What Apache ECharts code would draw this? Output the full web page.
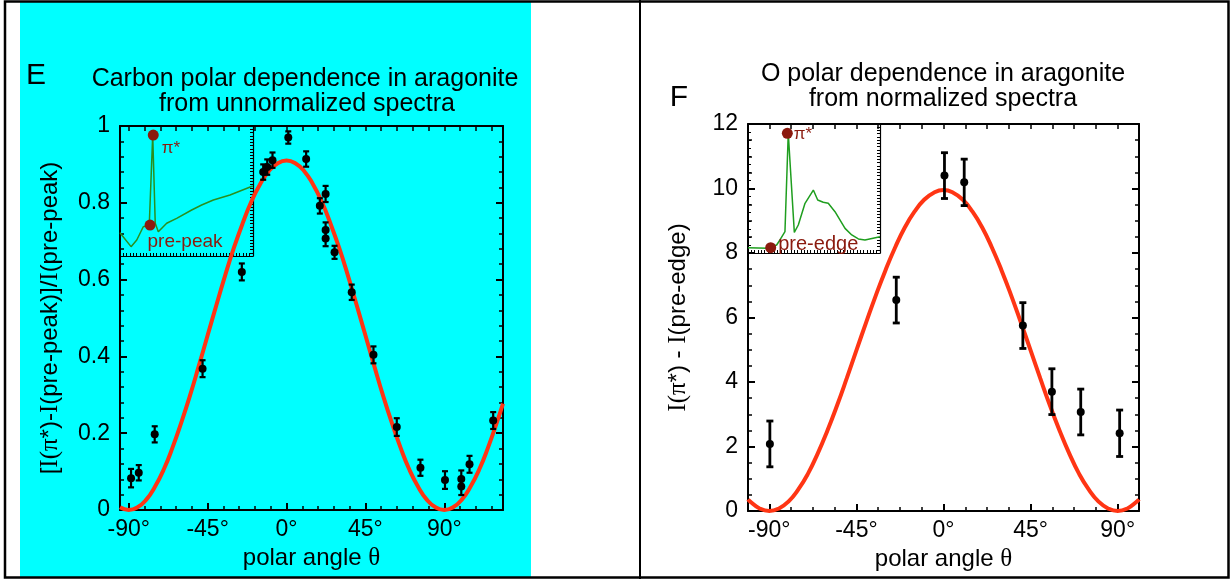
<!DOCTYPE html>
<html>
<head>
<meta charset="utf-8">
<script src="https://cdn.jsdelivr.net/npm/echarts@6/dist/echarts.min.js"></script>
<style>
  html, body { margin: 0; padding: 0; background: #fff; }
  #chart { width: 1231px; height: 579px; }
</style>
</head>
<body>
<div id="chart"></div>
<script>
// --- panel E: carbon, unnormalized spectra ---
const carbonAngle = [-88.7, -84.3, -75.2, -47.9, -25.5, -13.3, -11, -8, 1, 11.2, 19, 22.3, 22.3, 22.3, 27.4, 37.2, 49.6, 62.9, 76.4, 90.4, 99.7, 99.7, 104.4, 117.9]
const carbonValue = [0.083, 0.097, 0.197, 0.368, 0.620, 0.880, 0.893, 0.911, 0.970, 0.914, 0.792, 0.823, 0.729, 0.707, 0.671, 0.567, 0.404, 0.216, 0.110, 0.078, 0.081, 0.061, 0.119, 0.233]
const carbonErr = [0.024, 0.02, 0.021, 0.022, 0.022, 0.02, 0.02, 0.02, 0.016, 0.02, 0.02, 0.021, 0.02, 0.02, 0.017, 0.02, 0.022, 0.023, 0.021, 0.023, 0.022, 0.022, 0.022, 0.022]

const carbonFitAngle = [-95, -90, -85, -80, -75, -70, -65, -60, -55, -50, -45, -40, -35, -30, -25, -20, -15, -10, -5, 0, 5, 10, 15, 20, 25, 30, 35, 40, 45, 50, 55, 60, 65, 70, 75, 80, 85, 90, 95, 100, 105, 110, 115, 120, 123.5]
const carbonFitValue = [0.007, 0, 0.007, 0.027, 0.061, 0.106, 0.163, 0.228, 0.299, 0.376, 0.455, 0.534, 0.611, 0.683, 0.747, 0.804, 0.849, 0.883, 0.903, 0.91, 0.903, 0.883, 0.849, 0.804, 0.747, 0.683, 0.611, 0.534, 0.455, 0.376, 0.299, 0.228, 0.163, 0.106, 0.061, 0.027, 0.007, 0, 0.007, 0.027, 0.061, 0.106, 0.163, 0.228, 0.277]

// inset spectrum, arbitrary units (0-100 on both axes)
const carbonInsetX = [0, 1.3, 8.3, 12.6, 17.5, 22, 24.6, 26.5, 28.8, 35.1, 42.6, 53.9, 61.4, 70.2, 82.7, 99.8]
const carbonInsetY = [18, 16.2, 7.2, 12.3, 22.5, 23.8, 93, 25.2, 18.7, 25.2, 29, 35.4, 39.2, 43.1, 46.9, 53.8]
const carbonMarkX = [25, 22.6]
const carbonMarkY = [93, 23.8]

// --- panel F: oxygen, normalized spectra ---
const oxygenAngle = [-89.7, -24.4, 0.5, 10.7, 41, 56, 70.9, 91]
const oxygenValue = [2.08, 6.54, 10.40, 10.19, 5.75, 3.70, 3.07, 2.41]
const oxygenErr = [0.71, 0.71, 0.71, 0.72, 0.71, 0.71, 0.71, 0.72]

const oxygenFitAngle = [-101, -100, -95, -90, -85, -80, -75, -70, -65, -60, -55, -50, -45, -40, -35, -30, -25, -20, -15, -10, -5, 0, 5, 10, 15, 20, 25, 30, 35, 40, 45, 50, 55, 60, 65, 70, 75, 80, 85, 90, 95, 100, 101]
const oxygenFitValue = [0.36, 0.30, 0.08, 0, 0.08, 0.30, 0.67, 1.16, 1.78, 2.49, 3.27, 4.11, 4.98, 5.84, 6.68, 7.46, 8.17, 8.79, 9.28, 9.65, 9.87, 9.95, 9.87, 9.65, 9.28, 8.79, 8.17, 7.46, 6.68, 5.84, 4.98, 4.11, 3.27, 2.49, 1.78, 1.16, 0.67, 0.30, 0.08, 0, 0.08, 0.30, 0.36]

const oxygenInsetX = [0, 1.5, 15.4, 21.7, 24.2, 28, 30.5, 35.1, 38.1, 43.2, 49.5, 52.8, 57, 60.8, 65.9, 73.5, 78.6, 83.6, 88.6, 100]
const oxygenInsetY = [4.1, 4.1, 3.6, 6.2, 10.1, 16.5, 92.8, 16, 21.7, 38.5, 48.8, 41.1, 39.3, 38.5, 32, 19.1, 14, 10.9, 10.1, 12.6]
const oxygenMarkX = [29.8, 17.2]
const oxygenMarkY = [92.8, 4.1]

// --- ticks ---
const degLabels = [-90, -45, 0, 45, 90]
const carbonTicks = [-90, -81, -72, -63, -54, -45, -36, -27, -18, -9, 0, 9, 18, 27, 36, 45, 54, 63, 72, 81, 90, 99, 108, 117]
const oxygenTicks = [-90, -78.75, -67.5, -56.25, -45, -33.75, -22.5, -11.25, 0, 11.25, 22.5, 33.75, 45, 56.25, 67.5, 78.75, 90]

const FONT = "'Liberation Sans', Arial, Helvetica, sans-serif"
const SERIF = "'Liberation Serif', 'Times New Roman', serif"
const RED = '#ff3514'
const DARKRED = '#8b1a0e'

const zip = (xs, ys) => xs.map((x, i) => [x, ys[i]])
const bars = (xs, ys, es) => xs.map((x, i) => [x, ys[i] - es[i], ys[i] + es[i]])

const boxLine = { show: true, onZero: false, lineStyle: { color: '#000', width: 2 } }
const noLine = { show: false, onZero: false }
const thinLine = { show: true, onZero: false, lineStyle: { color: '#000', width: 1.2 } }
const tickStyle = w => ({ color: '#000', width: w })
const nameStyle = {
  color: '#000', fontSize: 24, fontFamily: FONT,
  rich: { s: { color: '#000', fontSize: 25, fontFamily: SERIF } }
}

// 误差棒
const errorBar = (capHalf, width) => (params, api) => {
  const x = api.value(0)
  const lo = api.coord([x, api.value(1)])
  const hi = api.coord([x, api.value(2)])
  const style = { stroke: '#000', lineWidth: width }
  return {
    type: 'group',
    children: [
      { type: 'line', shape: { x1: hi[0], y1: hi[1], x2: lo[0], y2: lo[1] }, style },
      { type: 'line', shape: { x1: hi[0] - capHalf, y1: hi[1], x2: hi[0] + capHalf, y2: hi[1] }, style },
      { type: 'line', shape: { x1: lo[0] - capHalf, y1: lo[1], x2: lo[0] + capHalf, y2: lo[1] }, style }
    ]
  }
}

const degAxis = (grid, min, max, ticks) => [
  {
    gridIndex: grid, type: 'value', min, max, position: 'bottom',
    axisLine: boxLine, splitLine: { show: false },
    axisTick: { show: true, inside: true, length: 7, customValues: degLabels, lineStyle: tickStyle(2) },
    axisLabel: { show: true, customValues: degLabels, formatter: v => v + '°', color: '#000', fontSize: 23, fontFamily: FONT, margin: 8 },
    name: 'polar angle {s|θ}', nameLocation: 'middle', nameGap: 34, nameTextStyle: nameStyle
  },
  {
    gridIndex: grid, type: 'value', min, max, position: 'bottom',
    axisLine: noLine, splitLine: { show: false }, axisLabel: { show: false },
    axisTick: { show: true, inside: true, length: 4, customValues: ticks, lineStyle: tickStyle(1.5) }
  },
  {
    gridIndex: grid, type: 'value', min, max, position: 'top',
    axisLine: boxLine, splitLine: { show: false }, axisLabel: { show: false },
    axisTick: { show: true, inside: true, length: 5, customValues: ticks, lineStyle: tickStyle(1.5) }
  }
]

const valAxes = (grid, max, interval, minorSplit, name) => [
  {
    gridIndex: grid, type: 'value', min: 0, max, interval, position: 'left',
    axisLine: boxLine, splitLine: { show: false },
    axisTick: { show: true, inside: true, length: 7, lineStyle: tickStyle(2) },
    minorTick: { show: true, splitNumber: minorSplit, length: 4, lineStyle: tickStyle(1.5) },
    axisLabel: { color: '#000', fontSize: 23, fontFamily: FONT, margin: 10 },
    name, nameLocation: 'middle', nameGap: 57, nameRotate: 90, nameTextStyle: nameStyle
  },
  {
    gridIndex: grid, type: 'value', min: 0, max, interval, position: 'right',
    axisLine: boxLine, splitLine: { show: false }, axisLabel: { show: false },
    axisTick: { show: true, inside: true, length: 7, lineStyle: tickStyle(2) },
    minorTick: { show: true, splitNumber: minorSplit, length: 4, lineStyle: tickStyle(1.5) }
  }
]

const insetX = grid => ({
  gridIndex: grid, type: 'value', min: 0, max: 100, interval: 2.5, position: 'bottom',
  axisLine: thinLine, splitLine: { show: false }, axisLabel: { show: false },
  axisTick: { show: true, inside: true, length: 3, lineStyle: tickStyle(1) }
})
const insetY = (grid, pos, interval) => ({
  gridIndex: grid, type: 'value', min: 0, max: 100, interval, position: pos,
  axisLine: pos === 'right' ? thinLine : noLine, splitLine: { show: false }, axisLabel: { show: false },
  axisTick: { show: true, inside: true, length: 3, lineStyle: tickStyle(1) }
})

const text = (x, y, str, size) => ({
  type: 'text', x, y,
  style: { text: str, fill: '#000', font: `${size}px ${FONT}`, textAlign: 'center', textVerticalAlign: 'middle', align: 'center', verticalAlign: 'middle' }
})

const marks = (xs, ys, labels) => xs.map((x, i) => ({
  value: [x, ys[i]],
  label: Object.assign({ show: true, color: DARKRED, fontFamily: FONT }, labels[i])
}))

const option = {
  backgroundColor: '#fff',
  animation: false,
  graphic: [
    { type: 'rect', z: -10, shape: { x: 20, y: 2, width: 511, height: 575 }, style: { fill: '#00ffff' } },
    { type: 'rect', shape: { x: 5, y: 1.5, width: 1223.5, height: 576 }, style: { fill: 'none', stroke: '#000', lineWidth: 2.5 } },
    { type: 'line', shape: { x1: 640, y1: 0, x2: 640, y2: 579 }, style: { stroke: '#000', lineWidth: 2 } },
    text(36, 76, 'E', 30),
    text(305, 79, 'Carbon polar dependence in aragonite', 25),
    text(307, 104, 'from unnormalized spectra', 25),
    text(679, 98, 'F', 30),
    text(943, 74, 'O polar dependence in aragonite', 25),
    text(943, 99, 'from normalized spectra', 25)
  ],
  grid: [
    { left: 120, top: 126, width: 383, height: 384, outerBoundsMode: 'none' },
    { left: 120, top: 126, width: 133, height: 130, outerBoundsMode: 'none' },
    { left: 748, top: 124, width: 391, height: 387, outerBoundsMode: 'none' },
    { left: 748, top: 124, width: 132, height: 129, outerBoundsMode: 'none' }
  ],
  xAxis: [
    ...degAxis(0, -95, 123.5, carbonTicks),
    insetX(1),
    ...degAxis(2, -101, 101, oxygenTicks),
    insetX(3)
  ],
  yAxis: [
    ...valAxes(0, 1, 0.2, 5, '[{s|I(π}*)-{s|I}(pre-peak)]/{s|I}(pre-peak)'),
    insetY(1, 'right', 2.5),
    ...valAxes(2, 12, 2, 4, '{s|I(π}*) - {s|I}(pre-edge)'),
    insetY(3, 'right', 2.5),
    insetY(3, 'left', 6.25)
  ],
  series: [
    // E
    {
      type: 'line', xAxisIndex: 0, yAxisIndex: 0, data: zip(carbonFitAngle, carbonFitValue),
      smooth: true, showSymbol: false, lineStyle: { color: RED, width: 4 }, z: 3
    },
    { type: 'custom', xAxisIndex: 0, yAxisIndex: 0, data: bars(carbonAngle, carbonValue, carbonErr), renderItem: errorBar(3, 2.2), z: 4 },
    {
      type: 'scatter', xAxisIndex: 0, yAxisIndex: 0, data: zip(carbonAngle, carbonValue),
      symbolSize: 8, itemStyle: { color: '#000', borderWidth: 0, opacity: 1 }, z: 5
    },
    {
      type: 'line', xAxisIndex: 3, yAxisIndex: 2, data: zip(carbonInsetX, carbonInsetY),
      showSymbol: false, lineStyle: { color: '#2a8f1f', width: 1.5 }, z: 3
    },
    {
      type: 'scatter', xAxisIndex: 3, yAxisIndex: 2, symbolSize: 11,
      itemStyle: { color: DARKRED, borderWidth: 0, opacity: 1 }, z: 6,
      data: marks(carbonMarkX, carbonMarkY, [
        { formatter: 'π*', position: 'right', distance: 3, offset: [0, 13], fontSize: 17 },
        { formatter: 'pre-peak', position: [3, 22], align: 'left', verticalAlign: 'middle', fontSize: 19 }
      ])
    },
    // F
    {
      type: 'line', xAxisIndex: 4, yAxisIndex: 3, data: zip(oxygenFitAngle, oxygenFitValue),
      smooth: true, showSymbol: false, lineStyle: { color: RED, width: 4 }, z: 3
    },
    { type: 'custom', xAxisIndex: 4, yAxisIndex: 3, data: bars(oxygenAngle, oxygenValue, oxygenErr), renderItem: errorBar(3.5, 2.8), z: 4 },
    {
      type: 'scatter', xAxisIndex: 4, yAxisIndex: 3, data: zip(oxygenAngle, oxygenValue),
      symbolSize: 8, itemStyle: { color: '#000', borderWidth: 0, opacity: 1 }, z: 5
    },
    {
      type: 'line', xAxisIndex: 7, yAxisIndex: 5, data: zip(oxygenInsetX, oxygenInsetY),
      showSymbol: false, lineStyle: { color: '#1f9e1f', width: 1.5 }, z: 3
    },
    {
      type: 'scatter', xAxisIndex: 7, yAxisIndex: 5, symbolSize: 11,
      itemStyle: { color: DARKRED, borderWidth: 0, opacity: 1 }, z: 6,
      data: marks(oxygenMarkX, oxygenMarkY, [
        { formatter: 'π*', position: 'right', distance: 1, offset: [0, 1], fontSize: 17 },
        { formatter: 'pre-edge', position: [13, 2], align: 'left', verticalAlign: 'middle', fontSize: 20 }
      ])
    }
  ]
}

const myChart = echarts.init(document.getElementById('chart'))
myChart.setOption(option)
</script>
</body>
</html>
